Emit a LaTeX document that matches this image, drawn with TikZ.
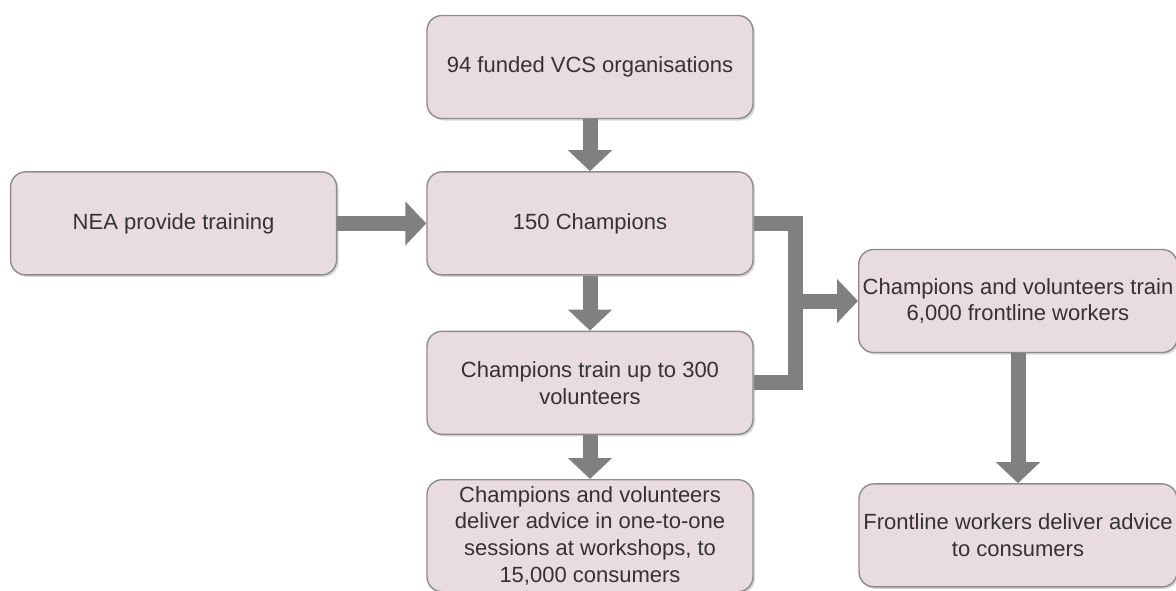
\documentclass[tikz,border=0pt]{standalone}
\usepackage{fontspec}
\setmainfont{Liberation Sans}
\usetikzlibrary{arrows.meta, positioning, shadows}
\definecolor{boxfill}{HTML}{E9DBE2}
\definecolor{boxline}{HTML}{8C8C8C}
\definecolor{flowgray}{HTML}{808080}
\definecolor{textgray}{HTML}{333333}
\tikzstyle{stage} = [
    rectangle,
    rounded corners=7.5pt,
    minimum width=163pt,
    minimum height=51.5pt,
    inner sep=2pt,
    align=center,
    text=textgray,
    draw=boxline,
    line width=0.7pt,
    fill=boxfill,
    drop shadow={shadow xshift=1pt, shadow yshift=-1pt, fill=black!30, opacity=0.5},
    font=\fontsize{11}{13.4}\selectfont
]
\tikzstyle{flow} = [
    draw=flowgray,
    line width=7.5pt,
    line join=miter,
    -{Triangle[width=21.5pt,length=10.5pt]}
]

\begin{document}
\begin{tikzpicture}[x=0.5pt, y=-0.5pt]

\useasboundingbox (0,0) rectangle (1176,590);

\node (orgs)    [stage] at (590,67) {94 funded VCS organisations};
\node (champ)   [stage, below=26pt of orgs] {150 Champions};
\node (nea)     [stage, left=44.5pt of champ] {NEA provide training};
\node (train)   [stage, below=27.5pt of champ] {Champions train up to 300\\volunteers};
\node (deliver) [stage, below=22pt of train, minimum height=56pt] {Champions and volunteers\\deliver advice in one-to-one\\sessions at workshops, to\\15,000 consumers};
\node (cvtrain) [stage, minimum width=159pt] at (1018,301) {Champions and volunteers train\\6,000 frontline workers};
\node (fwork)   [stage, minimum width=159pt, below=65pt of cvtrain] {Frontline workers deliver advice\\to consumers};

\coordinate (fork) at (795,301);

\draw[flow] (orgs) -- (champ);
\draw[flow] (nea) -- (champ);
\draw[flow] (champ) -- (train);
\draw[flow] (train) -- (deliver);
\draw[flow, -] (champ.east) -| (fork) |- (train.east);
\draw[flow] (fork) -- (cvtrain);
\draw[flow] (cvtrain) -- (fwork);

\end{tikzpicture}
\end{document}
